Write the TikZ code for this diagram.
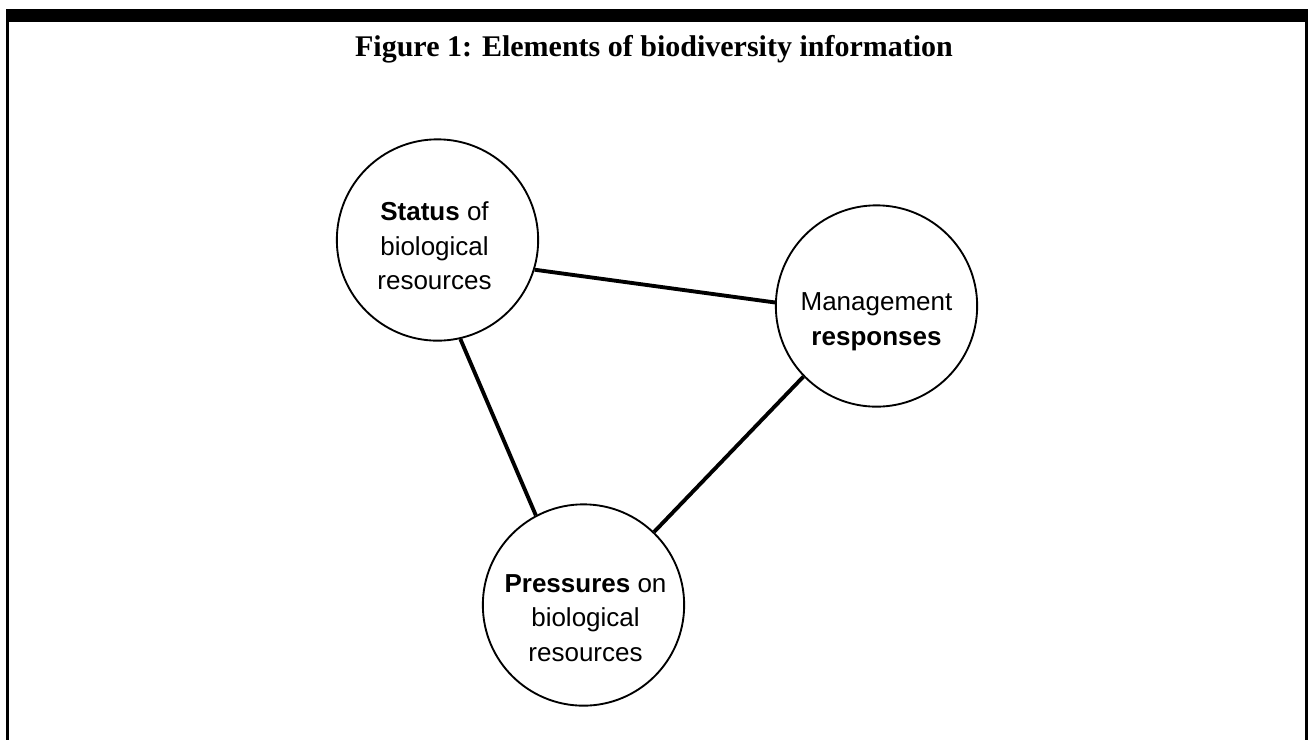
\documentclass[tikz,border=0pt]{standalone}
\usepackage{fontspec}
\setmainfont{Liberation Serif}
\setsansfont{Liberation Sans}
\usetikzlibrary{calc}
\begin{document}
\begin{tikzpicture}[x=0.75pt,y=-0.75pt,
  bubble/.style={circle,draw,line width=1.4pt,minimum size=151pt,inner sep=0pt},
  bubbletext/.style={align=center,inner sep=0pt,font=\sffamily\fontsize{19.5}{26}\selectfont},
  link/.style={line width=2.9pt},
  heading/.style={anchor=base,inner sep=0pt,font=\bfseries\fontsize{22.5}{27}\selectfont}]
\useasboundingbox (0,0) rectangle (1308,740);
% frame: heavy top rule with thin side rules
\fill (6,9) rectangle (1308,22);
\fill (6,9) rectangle (9,740);
\fill (1305,9) rectangle (1308,740);
% heading
\node[heading] (title) at (654,56) {Figure 1: Elements of biodiversity information};
% the three elements
\node[bubble] (S) at (437.5,240) {};
\node[bubble] (M) at (876.5,306) {};
\node[bubble] (P) at (583.5,605) {};
\node[bubbletext] (St) at ($(S.center)+(-3,6)$) {\textbf{Status} of\\biological\\resources};
\node[bubbletext] (Mt) at ($(M.center)+(0,16)$) {Management\\\textbf{responses}};
\node[bubbletext] (Pt) at ($(P.center)+(2,13)$) {\textbf{Pressures} on\\biological\\resources};
% links between the elements
\draw[link] (S.-17.4) -- (M.178);
\draw[link] (S.-77) -- (P.118);
\draw[link] (M.224.3) -- (P.46);
\end{tikzpicture}
\end{document}
